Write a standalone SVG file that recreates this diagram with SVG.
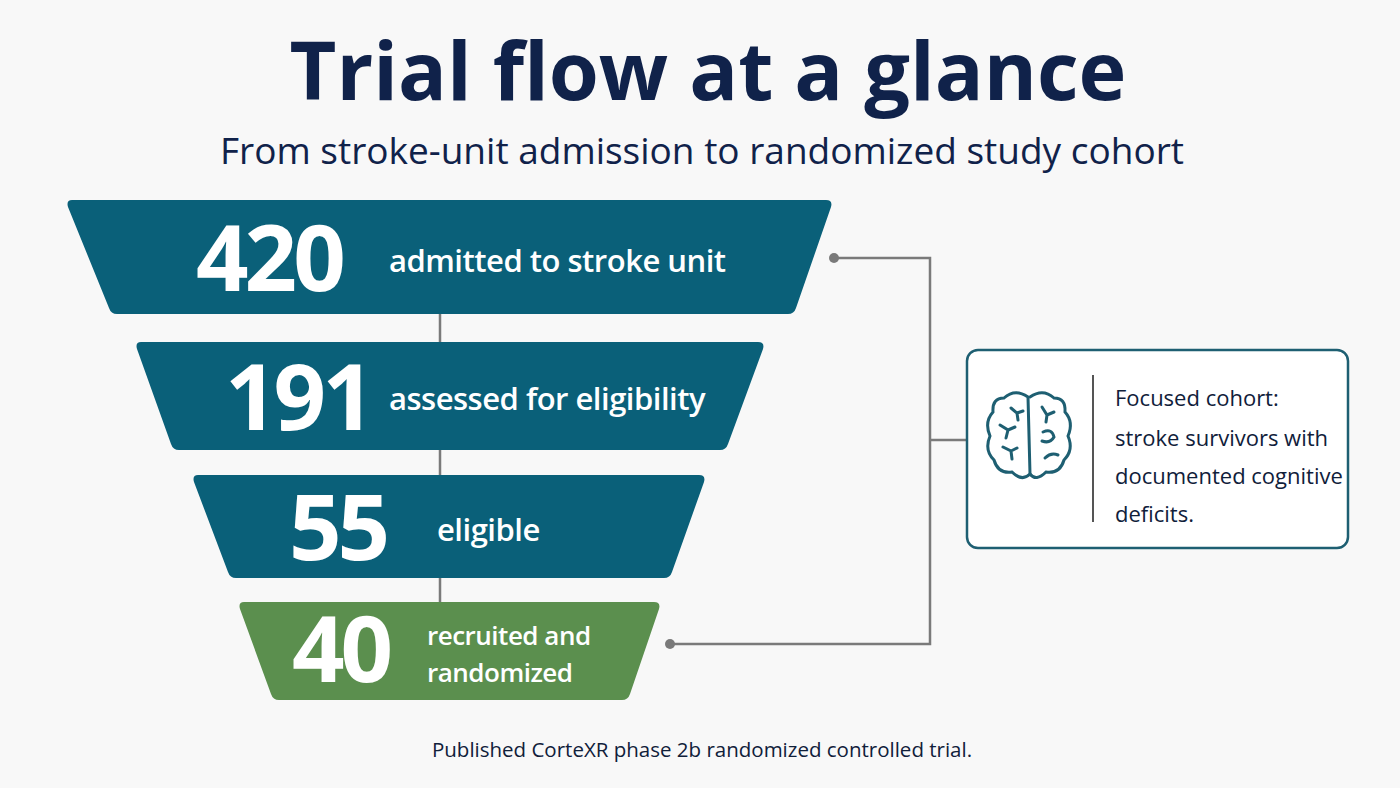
<svg xmlns="http://www.w3.org/2000/svg" width="1400" height="788" viewBox="0 0 1400 788">
<style>
.t{font-family:"Open Sans","Liberation Sans",sans-serif;}
.num{font-family:"Open Sans","Liberation Sans",sans-serif;font-weight:700;fill:#fff;font-size:92px;letter-spacing:-4px}
.lab{font-family:"Open Sans","Liberation Sans",sans-serif;font-weight:600;fill:#fff;font-size:31px;letter-spacing:-0.5px}
.lab2{font-family:"Open Sans","Liberation Sans",sans-serif;font-weight:600;fill:#fff;font-size:26px;letter-spacing:-0.5px}
.teal{fill:#0a6079}
.conn{fill:none;stroke:#7a7a7a;stroke-width:2.5}
</style>
<rect width="1400" height="788" fill="#f8f8f8"/>
<text class="t" x="708" y="100" text-anchor="middle" font-size="81" font-weight="700" fill="#10224a">Trial flow at a glance</text>
<text class="t" x="702" y="164" text-anchor="middle" font-size="37" font-weight="500" fill="#10224a">From stroke-unit admission to randomized study cohort</text>
<g id="connectors">
<line class="conn" x1="440" y1="314" x2="440" y2="342"/>
<line class="conn" x1="440" y1="450" x2="440" y2="475"/>
<line class="conn" x1="440" y1="578" x2="440" y2="602"/>
<path class="conn" d="M834 258 H930 V644 H670 M930 440 H966"/>
<circle cx="834" cy="258" r="5" fill="#7a7a7a"/>
<circle cx="670" cy="644" r="5" fill="#7a7a7a"/>
</g>
<g id="n420">
<path class="teal" d="M72 200 H826 Q833 200 831 207 L796 308 Q794 314 788 314 H117 Q111 314 109 308 L68 207 Q66 200 72 200Z"/>
<text class="num" x="196" y="291">420</text>
<text class="lab" x="389" y="272">admitted to stroke unit</text>
</g>
<g id="n191">
<path class="teal" d="M141 342 H758 Q765 342 763 349 L728 444 Q726 450 720 450 H179 Q173 450 171 444 L137 349 Q135 342 141 342Z"/>
<text class="num" x="225" y="430">191</text>
<text class="lab" x="389" y="410">assessed for eligibility</text>
</g>
<g id="n55">
<path class="teal" d="M198 475 H699 Q706 475 704 482 L672 572 Q670 578 664 578 H236 Q230 578 228 572 L194 482 Q192 475 198 475Z"/>
<text class="num" x="289" y="560">55</text>
<text class="lab" x="437" y="541">eligible</text>
</g>
<g id="n40">
<path fill="#5b8f4e" d="M244 602 H654 Q661 602 659 609 L630 694 Q628 700 622 700 H279 Q273 700 271 694 L240 609 Q238 602 244 602Z"/>
<text class="num" x="292" y="682">40</text>
<text class="lab2" x="427" y="645">recruited and</text>
<text class="lab2" x="427" y="682">randomized</text>
</g>
<g id="cohort">
<rect x="967" y="350" width="381" height="198" rx="11" fill="#fff" stroke="#1e5f72" stroke-width="2.5"/>
<line x1="1093" y1="375" x2="1093" y2="522" stroke="#555" stroke-width="2"/>
<g fill="none" stroke="#1e5f72" stroke-width="3" stroke-linecap="round">
<path d="M1028 397 Q1015 388 1004 398 Q992 398 993 412 Q984 422 990 436 Q984 450 994 460 Q998 474 1012 472 Q1022 482 1030 474 Z"/>
<path d="M1030 397 Q1043 388 1054 398 Q1066 398 1065 412 Q1074 422 1068 436 Q1074 450 1064 460 Q1060 474 1046 472 Q1036 482 1030 474"/>
<path d="M1011 408 L1017 413 L1018 420 M1017 413 L1023 411"/>
<path d="M1000 425 L1008 430 L1006 438 M1008 430 L1015 427"/>
<path d="M1003 447 L1011 451 L1012 459 M1011 451 L1017 448"/>
<path d="M1042 407 L1047 415 L1054 412 M1047 415 L1046 422"/>
<path d="M1043 432 Q1052 428 1054 437 Q1050 444 1042 441"/>
<path d="M1045 458 Q1051 452 1058 455"/>
</g>
<text class="t" font-size="22" fill="#10203a" font-weight="500"><tspan x="1115" y="406">Focused cohort:</tspan><tspan x="1115" y="446">stroke survivors with</tspan><tspan x="1115" y="484">documented cognitive</tspan><tspan x="1115" y="522">deficits.</tspan></text>
</g>
<text class="t" x="702" y="757" text-anchor="middle" font-size="20.5" fill="#10203a">Published CorteXR phase 2b randomized controlled trial.</text>
</svg>
